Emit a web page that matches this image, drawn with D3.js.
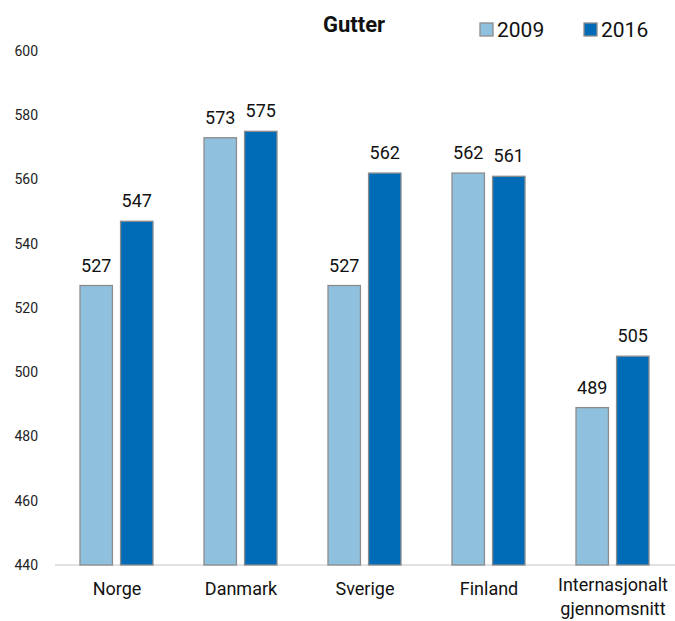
<!DOCTYPE html>
<html>
<head>
<meta charset="utf-8">
<script src="https://cdn.jsdelivr.net/npm/d3@7"></script>
<style>
  body { margin: 0; background: #fff; }
  text { font-family: Roboto, "Liberation Sans", sans-serif; }
</style>
</head>
<body>
<svg id="chart" width="675" height="621"></svg>
<script>
const categories = ["Norge", "Danmark", "Sverige", "Finland", "Internasjonalt\ngjennomsnitt"];
const series = ["2009", "2016"];
const values2009 = [527, 573, 527, 562, 489];
const values2016 = [547, 575, 562, 561, 505];
const yTicks = [440, 460, 480, 500, 520, 540, 560, 580, 600];
const colors = ["#8fc1de", "#006cb7"];

const drawChart = function (svg) {
    let margin = {top: 51, bottom: 56, left: 55, right: 0};
    let width = +svg.attr("width");
    let height = +svg.attr("height");

    let yScale = d3.scaleLinear()
        .domain([440, 600])
        .range([height - margin.bottom, margin.top]);
    let xScale = d3.scaleBand()
        .domain(categories)
        .range([margin.left, width - margin.right]);
    let inner = d3.scaleBand()
        .domain(series)
        .range([25, xScale.bandwidth() - 26])
        .paddingInner(0.2);

    // y tick labels, no axis line
    let leftAxis = d3.axisLeft(yScale).tickValues(yTicks).tickSize(0).tickPadding(0);
    svg.append("g")
        .attr("transform", `translate(38, 0)`)
        .call(leftAxis)
        .call(g => g.select(".domain").remove())
        .selectAll("text")
        .style("font-size", "14px")
        .style("fill", "#222");

    // baseline
    svg.append("line")
        .attr("x1", margin.left).attr("x2", width)
        .attr("y1", yScale(440)).attr("y2", yScale(440))
        .style("stroke", "#d9d9d9").style("stroke-width", 1.5);

    categories.forEach((c, i) => {
        [values2009[i], values2016[i]].forEach((v, j) => {
            let x = xScale(c) + inner(series[j]);
            svg.append("rect")
                .attr("x", x)
                .attr("y", yScale(v))
                .attr("width", inner.bandwidth())
                .attr("height", yScale(440) - yScale(v))
                .style("fill", colors[j])
                .style("stroke", "#8c8c8c")
                .style("stroke-width", 1.3);
            svg.append("text")
                .attr("x", x + inner.bandwidth() / 2)
                .attr("y", yScale(v) - 14)
                .attr("text-anchor", "middle")
                .style("font-size", "18px")
                .style("fill", "#111")
                .text(v);
        });

        let lines = c.split("\n");
        let y0 = lines.length > 1 ? 26 : 30;
        lines.forEach((l, k) => {
            svg.append("text")
                .attr("x", xScale(c) + xScale.bandwidth() / 2)
                .attr("y", yScale(440) + y0 + k * 24)
                .attr("text-anchor", "middle")
                .style("font-size", "18px")
                .style("fill", "#111")
                .text(l);
        });
    });

    // title
    svg.append("text")
        .attr("x", 354).attr("y", 32)
        .attr("text-anchor", "middle")
        .style("font-size", "22px")
        .style("font-weight", "bold")
        .style("fill", "#111")
        .text("Gutter");

    // legend
    let legendX = [480, 584];
    series.forEach((s, j) => {
        svg.append("rect")
            .attr("x", legendX[j]).attr("y", 23)
            .attr("width", 13).attr("height", 13)
            .style("fill", colors[j])
            .style("stroke", "#8c8c8c")
            .style("stroke-width", 1.3);
        svg.append("text")
            .attr("x", legendX[j] + 17).attr("y", 37)
            .style("font-size", "21px")
            .style("fill", "#111")
            .text(s);
    });
};

drawChart(d3.select("svg#chart"));
</script>
</body>
</html>
